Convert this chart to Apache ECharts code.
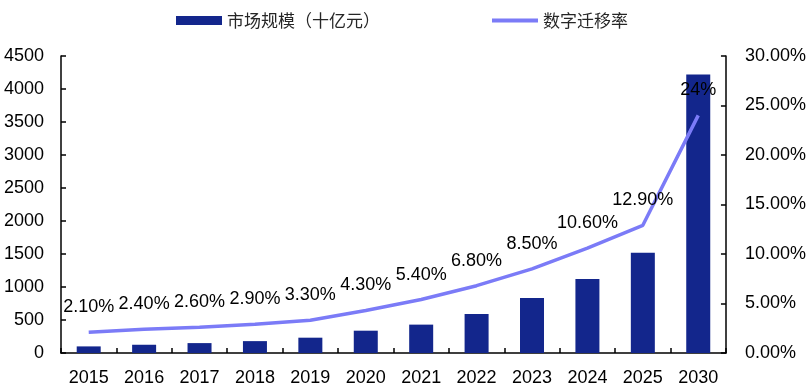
<!DOCTYPE html>
<html>
<head>
<meta charset="utf-8">
<script src="https://cdn.jsdelivr.net/npm/echarts@6/dist/echarts.min.js"></script>
<style>html,body{margin:0;padding:0;background:#fff}#c{width:809px;height:392px}</style>
</head>
<body>
<div id="c"></div>
<script>
const years = ['2015','2016','2017','2018','2019','2020','2021','2022','2023','2024','2025','2030'];
const marketSize = [100, 125, 150, 180, 232, 338, 430, 590, 833, 1120, 1520, 4220];
const migrationRate = [0.021, 0.024, 0.026, 0.029, 0.033, 0.043, 0.054, 0.068, 0.085, 0.106, 0.129, 0.24];
const rateLabels = ['2.10%','2.40%','2.60%','2.90%','3.30%','4.30%','5.40%','6.80%','8.50%','10.60%','12.90%','24%'];
const leftTicks = {min: 0, max: 4500, interval: 500};
const rightTicks = {min: 0, max: 0.30, interval: 0.05};

const chart = echarts.init(document.getElementById('c'), null, {renderer: 'canvas'});
const font = 'Liberation Sans, Arial, sans-serif';
const axisLine = {show: true, lineStyle: {color: '#000', width: 1.5}};
chart.setOption({
  animation: false,
  legend: {
    top: 7, left: 171,
    itemGap: 112,
    itemWidth: 46, itemHeight: 9,
    textStyle: {fontFamily: 'Noto Sans CJK SC', fontSize: 17, color: '#262626'},
    data: [
      {name: '市场规模（十亿元）', icon: 'rect'},
      {name: '数字迁移率', icon: 'path://M0,0 L46,0 L46,4 L0,4 Z'}
    ]
  },
  grid: {left: 61, right: 80, top: 56, bottom: 39},
  xAxis: {
    type: 'category', data: years,
    axisLine: axisLine,
    axisTick: {show: true, inside: true, length: 5, lineStyle: {color: '#000', width: 1.5}},
    axisLabel: {fontFamily: font, fontSize: 18, color: '#000', margin: 16}
  },
  yAxis: [{
    type: 'value', min: leftTicks.min, max: leftTicks.max, interval: leftTicks.interval,
    axisLine: axisLine,
    axisTick: {show: true, inside: true, length: 5, lineStyle: {color: '#000', width: 1.5}},
    splitLine: {show: false},
    axisLabel: {fontFamily: font, fontSize: 18, color: '#000', margin: 17,
      formatter: v => String(v)}
  }, {
    type: 'value', min: rightTicks.min, max: rightTicks.max, interval: rightTicks.interval,
    position: 'right',
    axisLine: axisLine,
    axisTick: {show: true, inside: true, length: 5, lineStyle: {color: '#000', width: 1.5}},
    splitLine: {show: false},
    axisLabel: {fontFamily: font, fontSize: 18, color: '#000', margin: 19,
      formatter: v => (v * 100).toFixed(2) + '%'}
  }],
  series: [{
    name: '市场规模（十亿元）', type: 'bar', data: marketSize,
    barWidth: 24,
    itemStyle: {color: '#13268C'}
  }, {
    name: '数字迁移率', type: 'line', yAxisIndex: 1, data: migrationRate,
    symbol: 'circle', symbolSize: 0, showSymbol: true,
    lineStyle: {color: '#7B7BF7', width: 3.5},
    itemStyle: {color: '#7B7BF7'},
    label: {show: true, position: 'top', distance: 16, fontFamily: font, fontSize: 18, color: '#000',
      formatter: p => rateLabels[p.dataIndex]},
    z: 5
  }]
});
</script>
</body>
</html>
